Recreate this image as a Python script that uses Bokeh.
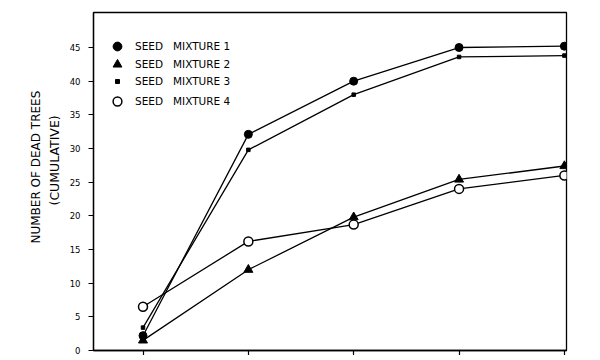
from bokeh.plotting import figure
from bokeh.models import Legend, LegendItem, FixedTicker, Title
from bokeh.embed import file_html
from bokeh.resources import INLINE

weeks = [1, 2, 3, 4, 5]
mix1 = [2.2, 32.1, 40.0, 45.0, 45.2]
mix2 = [1.5, 12.0, 19.8, 25.4, 27.4]
mix3 = [3.4, 29.8, 38.0, 43.6, 43.8]
mix4 = [6.5, 16.2, 18.7, 24.0, 26.0]
labels = ["SEED   MIXTURE 1", "SEED   MIXTURE 2", "SEED   MIXTURE 3", "SEED   MIXTURE 4"]
y_ticks = [0, 5, 10, 15, 20, 25, 30, 35, 40, 45]
y_title = ["NUMBER OF DEAD TREES", "(CUMULATIVE)"]

FONT = "DejaVu Sans"

p = figure(frame_width=473, frame_height=338, x_range=(0.53, 5.02), y_range=(0, 50.2),
           output_backend="svg", toolbar_location=None,
           min_border_left=93, min_border_top=12, min_border_right=10, min_border_bottom=5)
p.grid.visible = False
p.outline_line_color = "black"
p.outline_line_width = 1.3
p.background_fill_color = "white"
p.border_fill_color = "white"

for ax in (p.xaxis[0], p.yaxis[0]):
    ax.axis_line_color = "black"
    ax.axis_line_width = 1.3
    ax.major_tick_line_color = "black"
    ax.major_tick_line_width = 1.2
    ax.major_tick_in = 0
    ax.major_tick_out = 5
    ax.minor_tick_line_color = None
    ax.major_label_text_font = FONT
    ax.major_label_text_color = "black"

p.yaxis.ticker = FixedTicker(ticks=y_ticks)
p.yaxis.major_label_text_font_size = "8.5px"
p.yaxis.major_label_standoff = 8

p.xaxis.ticker = FixedTicker(ticks=weeks)
p.xaxis.major_label_overrides = {w: "" for w in weeks}
p.xaxis.major_label_standoff = 0

# y-axis title as two rotated titles in the left panel (inner one first)
p.add_layout(Title(text=y_title[1], align="left", offset=145, standoff=9,
                   text_font=FONT, text_font_size="12.5px", text_font_style="normal",
                   text_color="black"), "left")
p.add_layout(Title(text=y_title[0], align="left", offset=107, standoff=-5,
                   text_font=FONT, text_font_size="12px", text_font_style="normal",
                   text_color="black"), "left")

lw = 1.3
p.line(weeks, mix1, line_color="black", line_width=lw)
p.line(weeks, mix2, line_color="black", line_width=lw)
p.line(weeks, mix3, line_color="black", line_width=lw)
p.line(weeks, mix4, line_color="black", line_width=lw)
r1 = p.scatter(weeks, mix1, marker="circle", size=8, fill_color="black", line_color="black")
r2 = p.scatter(weeks, mix2, marker="triangle", size=9, fill_color="black", line_color="black")
r3 = p.scatter(weeks, mix3, marker="square", size=3.5, fill_color="black", line_color="black")
r4 = p.scatter(weeks, mix4, marker="circle", size=9, fill_color="white", line_color="black", line_width=1.5)

specs = [(labels[0], r1, 22, (13, 293), 7),
         (labels[1], r2, 22, (13, 275), 7),
         (labels[2], r3, 10, (19, 263), 13),
         (labels[3], r4, 22, (13, 238), 7)]
for lab, rend, g, loc, standoff in specs:
    lg = Legend(items=[LegendItem(label=lab, renderers=[rend])],
                location=loc, border_line_color=None, background_fill_alpha=0,
                padding=0, margin=0, spacing=0, glyph_width=g, glyph_height=g,
                label_height=g, label_standoff=standoff, label_text_font=FONT,
                label_text_font_size="10.5px", label_text_color="black")
    p.add_layout(lg, "center")

open("out.html", "w").write(file_html(p, INLINE))
